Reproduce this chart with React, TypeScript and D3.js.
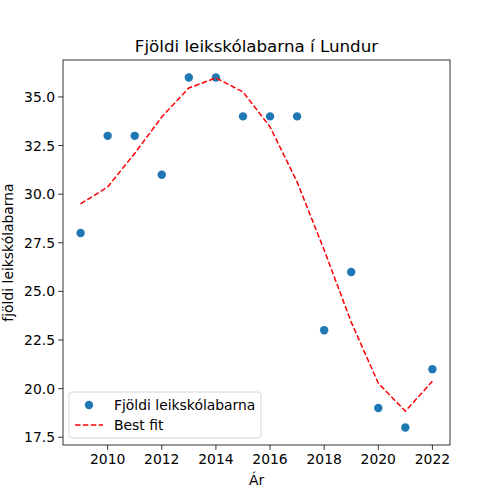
import React from "react";
import * as d3 from "d3";

const years = [2009, 2010, 2011, 2012, 2013, 2014, 2015, 2016, 2017, 2018, 2019, 2020, 2021, 2022];
const counts = [28, 33, 33, 31, 36, 36, 34, 34, 34, 23, 26, 19, 18, 21];
const fit = [29.5, 30.37, 32.1, 33.97, 35.46, 35.98, 35.26, 33.46, 30.63, 27.13, 23.42, 20.28, 18.84, 20.38];
const xTicks = [2010, 2012, 2014, 2016, 2018, 2020, 2022];
const yTicks = [17.5, 20, 22.5, 25, 27.5, 30, 32.5, 35];

export default function App() {
  const L = 63, R = 450, T = 60, B = 445;
  const x = d3.scaleLinear().domain([2008.35, 2022.65]).range([L, R]);
  const y = d3.scaleLinear().domain([17.1, 36.9]).range([B, T]);
  const line = d3.line<number>().x((_, i) => x(years[i])).y((d) => y(d));
  const font = "DejaVu Sans, sans-serif";
  return (
    <svg width={500} height={500} style={{ position: "absolute", left: 0, top: 0, background: "#fff" }} fontFamily={font}>
      <rect x={0} y={0} width={500} height={500} fill="#fff" />
      {counts.map((c, i) => (
        <circle key={i} cx={x(years[i])} cy={y(c)} r={4.2} fill="#1f77b4" />
      ))}
      <path d={line(fit) || ""} fill="none" stroke="red" strokeWidth={1.5} strokeDasharray="5.5,2.4" />
      <rect x={L} y={T} width={R - L} height={B - T} fill="none" stroke="#000" strokeWidth={0.8} />
      {xTicks.map((t) => (
        <g key={t}>
          <line x1={x(t)} x2={x(t)} y1={B} y2={B + 4.9} stroke="#000" strokeWidth={0.8} />
          <text x={x(t)} y={B + 19} textAnchor="middle" fontSize={13.9}>{t}</text>
        </g>
      ))}
      {yTicks.map((t) => (
        <g key={t}>
          <line x1={L - 4.9} x2={L} y1={y(t)} y2={y(t)} stroke="#000" strokeWidth={0.8} />
          <text x={L - 8} y={y(t) + 5} textAnchor="end" fontSize={13.9}>{t.toFixed(1)}</text>
        </g>
      ))}
      <text x={(L + R) / 2} y={52} textAnchor="middle" fontSize={16.7}>Fjöldi leikskólabarna í Lundur</text>
      <text x={(L + R) / 2} y={485} textAnchor="middle" fontSize={13.9}>Ár</text>
      <text transform={`translate(13,${(T + B) / 2}) rotate(-90)`} textAnchor="middle" fontSize={13.9}>fjöldi leikskólabarna</text>
      <g>
        <rect x={69} y={392} width={192} height={46} rx={3} fill="#fff" fillOpacity={0.8} stroke="#ccc" strokeWidth={0.8} />
        <circle cx={89} cy={405} r={4.2} fill="#1f77b4" />
        <text x={114} y={410} fontSize={13.9}>Fjöldi leikskólabarna</text>
        <line x1={75} x2={103} y1={425} y2={425} stroke="red" strokeWidth={1.5} strokeDasharray="5.5,2.4" />
        <text x={114} y={430} fontSize={13.9}>Best fit</text>
      </g>
    </svg>
  );
}
